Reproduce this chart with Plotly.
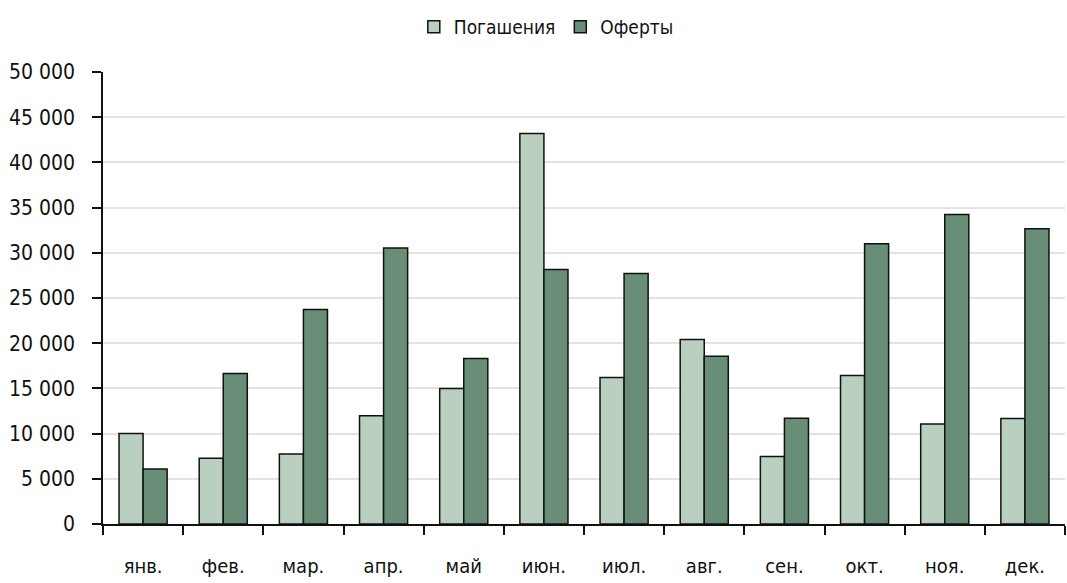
import plotly.graph_objects as go

months = ["янв.", "фев.", "мар.", "апр.", "май", "июн.", "июл.", "авг.", "сен.", "окт.", "ноя.", "дек."]
pogasheniya = [10000, 7260, 7730, 11970, 15000, 43200, 16200, 20400, 7480, 16430, 11050, 11680]
oferty = [6080, 16650, 23720, 30530, 18300, 28140, 27700, 18560, 11710, 31000, 34250, 32670]
y_ticks = [0, 5000, 10000, 15000, 20000, 25000, 30000, 35000, 40000, 45000, 50000]

FONT = "Liberation Sans Narrow, Arial Narrow, DejaVu Sans Condensed, sans-serif"

fig = go.Figure()
fig.add_trace(go.Bar(name="Погашения", x=months, y=pogasheniya,
                     marker=dict(color="#b9d0c0", line=dict(color="#111111", width=1.5))))
fig.add_trace(go.Bar(name="Оферты", x=months, y=oferty,
                     marker=dict(color="#688e78", line=dict(color="#111111", width=1.5))))

fig.update_layout(
    width=1067, height=583,
    margin=dict(l=103, r=2, t=72, b=59, autoexpand=False),
    paper_bgcolor="white", plot_bgcolor="white",
    barmode="group", bargap=0.4, bargroupgap=0,
    separators=", ",
    font=dict(family=FONT, size=19, color="#111111"),
    showlegend=True,
    legend=dict(orientation="h", xref="container", yref="container",
                x=0.512, xanchor="center", y=0.9537, yanchor="middle",
                font=dict(family=FONT, size=19, color="#111111"),
                itemwidth=30, traceorder="normal"),
)
fig.update_xaxes(
    type="category", tickson="boundaries", ticks="outside", ticklen=9, tickcolor="#111111",
    tickwidth=1.5, showline=True, linecolor="#111111", linewidth=1.5,
    showgrid=False, ticklabelstandoff=23, automargin=False,
    tickfont=dict(family=FONT, size=20, color="#111111"),
)
fig.update_yaxes(
    range=[0, 50000], tickvals=y_ticks, tickformat=",d",
    ticks="outside", ticklen=9, tickcolor="#111111", tickwidth=1.5,
    showline=True, linecolor="#111111", linewidth=1.5,
    showgrid=True, gridcolor="#e3e3e3", gridwidth=1.5,
    zeroline=False, ticklabelstandoff=13, automargin=False,
    tickfont=dict(family=FONT, size=21, color="#111111"),
)

fig.write_html("out.html",
               config={"displayModeBar": False},
               post_script="document.body.style.margin='0';document.body.style.overflow='hidden';")
